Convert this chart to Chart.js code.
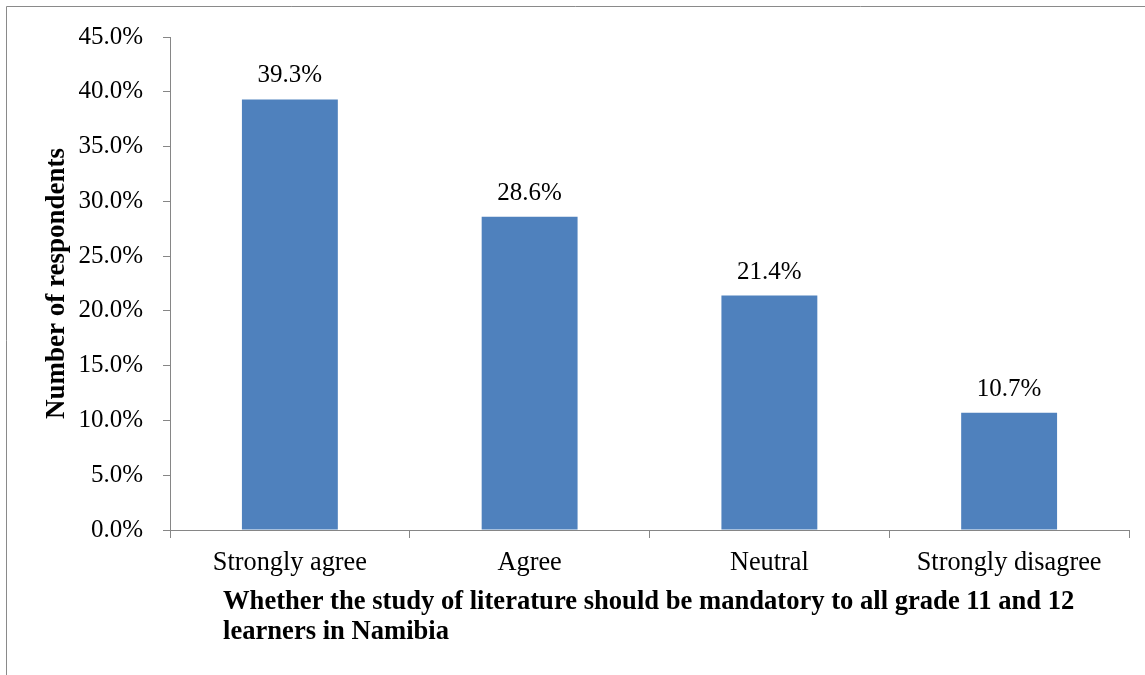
<!DOCTYPE html>
<html>
<head>
<meta charset="utf-8">
<script src="https://cdn.jsdelivr.net/npm/chart.js@4.4.1/dist/chart.umd.min.js"></script>
<style>
  html, body { margin: 0; padding: 0; background: #ffffff; }
  #wrap { width: 1145px; height: 675px; position: relative; }
</style>
</head>
<body>
<div id="wrap"><canvas id="c"></canvas></div>
<script>
const categories = ['Strongly agree', 'Agree', 'Neutral', 'Strongly disagree'];
const values = [39.3, 28.6, 21.4, 10.7];
const yTicks = [0, 5, 10, 15, 20, 25, 30, 35, 40, 45];
const yTitle = 'Number of respondents';
const xTitleLines = [
  'Whether the study of literature should be mandatory to all grade 11 and 12',
  'learners in Namibia'
];

const FONT = "'Liberation Serif', 'Times New Roman', serif";
const AXIS = '#868686';

const decor = {
  id: 'decor',
  afterDraw(chart) {
    const ctx = chart.ctx;
    ctx.save();
    // outer border
    ctx.strokeStyle = '#8a8a8a';
    ctx.lineWidth = 1;
    ctx.beginPath();
    ctx.moveTo(6.5, 675);
    ctx.lineTo(6.5, 6.5);
    ctx.lineTo(1145, 6.5);
    ctx.stroke();
    // data labels
    const meta = chart.getDatasetMeta(0);
    ctx.fillStyle = '#000';
    ctx.font = '25px ' + FONT;
    ctx.textAlign = 'center';
    ctx.textBaseline = 'alphabetic';
    meta.data.forEach((bar, i) => {
      ctx.fillText(values[i].toFixed(1) + '%', bar.x, bar.y - 17);
    });
    // x axis title
    ctx.font = 'bold 26.6px ' + FONT;
    ctx.textAlign = 'left';
    xTitleLines.forEach((line, i) => {
      ctx.fillText(line, 223, 609 + i * 30);
    });
    ctx.restore();
  }
};

new Chart(document.getElementById('c'), {
  type: 'bar',
  data: {
    labels: categories,
    datasets: [{
      data: values,
      backgroundColor: '#4F81BD',
      borderWidth: 0,
      barPercentage: 0.4,
      categoryPercentage: 1.0
    }]
  },
  options: {
    responsive: true,
    maintainAspectRatio: false,
    animation: false,
    devicePixelRatio: 1,
    layout: { padding: { left: 0, top: 37, right: 16, bottom: 0 } },
    plugins: {
      legend: { display: false },
      tooltip: { enabled: false },
      title: { display: false }
    },
    scales: {
      x: {
        afterFit(scale) { scale.height = 145; },
        grid: {
          drawOnChartArea: false,
          drawTicks: true,
          tickLength: 8,
          color: AXIS,
          offset: true
        },
        border: { display: true, color: AXIS, width: 1 },
        ticks: {
          color: '#000',
          font: { family: FONT, size: 26.3 },
          padding: 9,
          maxRotation: 0,
          autoSkip: false
        }
      },
      y: {
        min: 0,
        max: 45,
        afterFit(scale) { scale.width = 170; },
        afterBuildTicks(scale) { scale.ticks = yTicks.map(v => ({ value: v })); },
        grid: {
          drawOnChartArea: false,
          drawTicks: true,
          tickLength: 7,
          color: AXIS
        },
        border: { display: true, color: AXIS, width: 1 },
        ticks: {
          color: '#000',
          font: { family: FONT, size: 25 },
          padding: 20,
          callback: (v) => Number(v).toFixed(1) + '%'
        },
        title: {
          display: true,
          text: yTitle,
          color: '#000',
          font: { family: FONT, size: 27, weight: 'bold' },
          padding: { top: 41, bottom: 0 }
        }
      }
    }
  },
  plugins: [decor]
});
</script>
</body>
</html>
